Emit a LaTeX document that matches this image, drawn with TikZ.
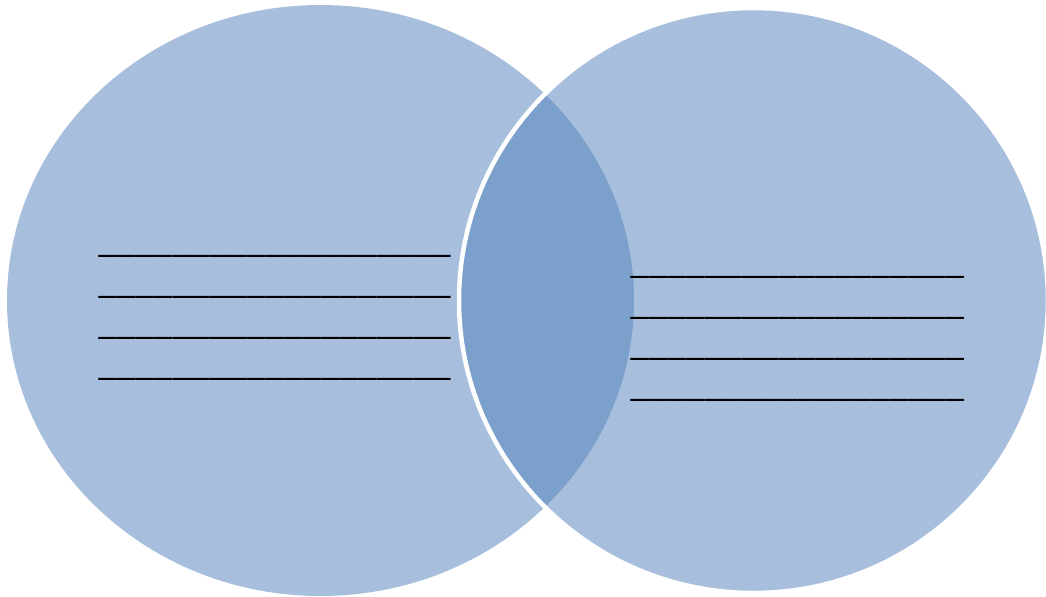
\documentclass[tikz,border=0pt]{standalone}
\usepackage{fontspec}
\setmainfont{Carlito}
\usetikzlibrary{positioning}

\definecolor{vennlight}{HTML}{A7BFDD}
\definecolor{venndark}{HTML}{7BA0CC}

\newcommand{\leftblank}{\_\_\_\_\_\_\_\_\_\_\_\_\_\_\_\_\_\_\_}
\newcommand{\rightblank}{\_\_\_\_\_\_\_\_\_\_\_\_\_\_\_\_\_\_}

\begin{document}
\begin{tikzpicture}[x=0.02cm, y=-0.02cm,
  blank/.style={inner sep=0pt, anchor=base west, font=\fontsize{21.2}{24}\selectfont}]

\useasboundingbox (0,0) rectangle (1046,596);

% the two sets
\fill[vennlight] (320.5,300.5) ellipse [x radius=313.5, y radius=295.5];
\fill[vennlight] (753.5,300.5) ellipse [x radius=294.5, y radius=292.5];

% overlap
\begin{scope}
\clip (753.5,300.5) ellipse [x radius=294.5, y radius=292.5];
\fill[venndark] (320.5,300.5) ellipse [x radius=313.5, y radius=295.5];
\end{scope}
\draw[white, line width=0.09cm] (753.5,300.5) ellipse [x radius=294.5, y radius=292.5];

% blanks, left set
\node[blank] (left1) at (98,252) {\leftblank};
\node[blank] (left2) at (98,293) {\leftblank};
\node[blank] (left3) at (98,334) {\leftblank};
\node[blank] (left4) at (98,375) {\leftblank};

% blanks, right set
\node[blank] (right1) at (630,273) {\rightblank};
\node[blank] (right2) at (630,314) {\rightblank};
\node[blank] (right3) at (630,355) {\rightblank};
\node[blank] (right4) at (630,396) {\rightblank};

\end{tikzpicture}
\end{document}
